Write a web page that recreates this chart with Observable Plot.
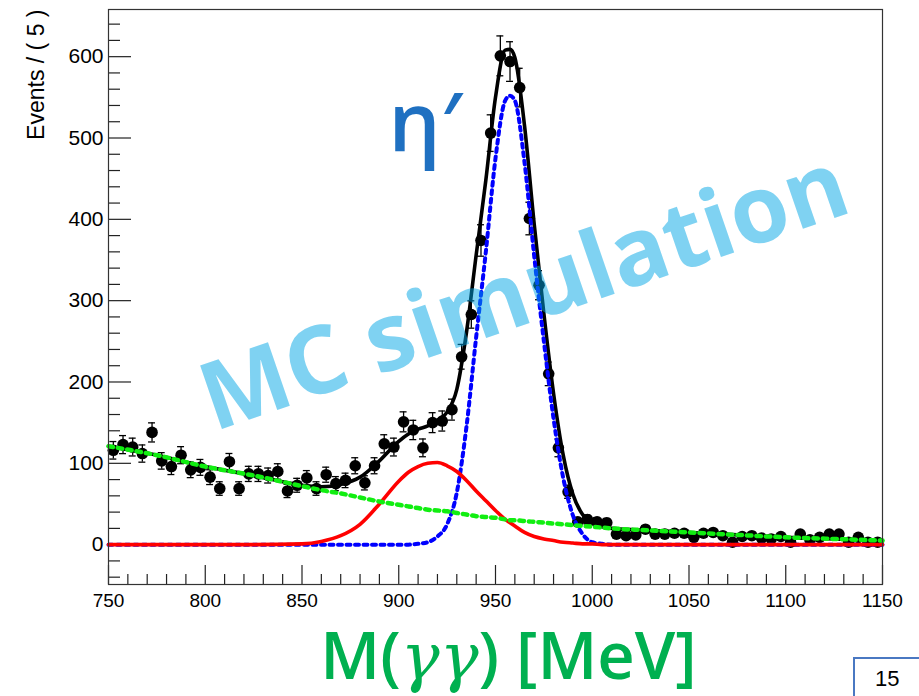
<!DOCTYPE html>
<html>
<head>
<meta charset="utf-8">
<script src="https://cdn.jsdelivr.net/npm/d3@7"></script>
<script src="https://cdn.jsdelivr.net/npm/@observablehq/plot@0.6"></script>
<style>
  html, body { margin: 0; padding: 0; background: #fff; overflow: hidden; }
  #wrap { position: relative; width: 919px; height: 696px; }
  #page { position: absolute; left: 853px; top: 657px; width: 120px; height: 80px;
          border: 2px solid #4a78c2; box-sizing: border-box; }
  #page span { position: absolute; left: 20px; top: 9px; font-family: "Liberation Sans", Arial, sans-serif;
               font-size: 22px; line-height: 22px; color: #000; }
</style>
</head>
<body>
<div id="wrap"></div>
<script>
// ---- Data ----
const binMeV = [
  752.5, 757.5, 762.5, 767.5, 772.5, 777.5, 782.5, 787.5, 792.5, 797.5,
  802.5, 807.5, 812.5, 817.5, 822.5, 827.5, 832.5, 837.5, 842.5, 847.5,
  852.5, 857.5, 862.5, 867.5, 872.5, 877.5, 882.5, 887.5, 892.5, 897.5,
  902.5, 907.5, 912.5, 917.5, 922.5, 927.5, 932.5, 937.5, 942.5, 947.5,
  952.5, 957.5, 962.5, 967.5, 972.5, 977.5, 982.5, 987.5, 992.5, 997.5,
  1002.5, 1007.5, 1012.5, 1017.5, 1022.5, 1027.5, 1032.5, 1037.5, 1042.5, 1047.5,
  1052.5, 1057.5, 1062.5, 1067.5, 1072.5, 1077.5, 1082.5, 1087.5, 1092.5, 1097.5,
  1102.5, 1107.5, 1112.5, 1117.5, 1122.5, 1127.5, 1132.5, 1137.5, 1142.5, 1147.5
];
const events = [
  116, 123, 120, 112, 138, 103, 96, 110, 92, 95,
  83, 69, 102, 69, 87, 87, 85, 90, 66, 73,
  82, 69, 86, 75, 79, 97, 76, 97, 124, 120,
  151, 141, 119, 150, 152, 166, 231, 283, 374, 506,
  601, 594, 562, 401, 319, 210, 119, 65, 28, 31,
  28, 27, 13, 11, 12, 19, 13, 13, 14, 14,
  9, 14, 15, 11, 3, 10, 11, 8, 7, 10,
  3, 13, 6, 9, 13, 13, 3, 9, 3, 3
];

// fit curves
const fitMeV = [750, 775, 800, 825, 850, 860, 870, 880, 890, 900, 905, 910, 915, 920, 925, 930, 935, 940, 945, 950,
  955, 957.5, 960, 965, 970, 975, 980, 985, 990, 995, 1000, 1005, 1010, 1025, 1050, 1075, 1100, 1125, 1150];
const fitTotal = [121, 110, 96, 85, 73, 71, 74, 83, 103, 127, 136, 142, 146, 153, 163, 191, 261, 356, 448, 550,
  608, 609, 599, 515, 394, 284, 186, 110, 62, 37, 26, 22, 20, 18, 15, 12, 9, 7, 5];
const fitBackground = [121, 110, 96, 85, 72, 67, 63, 58, 53, 49, 47, 45, 43, 42, 41, 39, 37, 35, 34, 33,
  31, 30, 30, 29, 28, 27, 26, 25, 24, 23, 22, 21, 20, 18, 15, 12, 9, 7, 5];
const fitBroad = [0, 0, 0, 0, 1, 4, 11, 25, 50, 78, 89, 96, 100, 101, 97, 90, 79, 66, 54, 42,
  31, 27, 23, 15, 10, 7, 5, 3, 2, 1, 1, 0, 0, 0, 0, 0, 0, 0, 0];
const fitSignal = [0, 0, 0, 0, 0, 0, 0, 0, 0, 0, 0, 1, 3, 10, 25, 64, 145, 255, 360, 475,
  546, 552, 546, 470, 355, 250, 155, 82, 36, 13, 3, 1, 0, 0, 0, 0, 0, 0, 0];

const xTickLabels = [750, 800, 850, 900, 950, 1000, 1050, 1100, 1150];
const yTickLabels = [0, 100, 200, 300, 400, 500, 600];
const xMinorTicks = d3.range(750, 1151, 10).filter(v => v % 50 !== 0);
const yMinorTicks = d3.range(-40, 641, 20).filter(v => v % 100 !== 0);

const yTitle = "Events / ( 5 )";
const xTitle = "M(γγ) [MeV]";
const watermark = "MC simulation";
const particle = "η′";
const pageNumber = "15";

// ---- tables ----
const points = binMeV.map((m, i) => ({m, n: events[i], e: Math.sqrt(events[i])}));
const fit = fitMeV.map((m, i) => ({m, total: fitTotal[i], bg: fitBackground[i], broad: fitBroad[i], sig: fitSignal[i]}));

const plot = Plot.plot({
  width: 919,
  height: 696,
  marginLeft: 108,
  marginRight: 37,
  marginTop: 9,
  marginBottom: 112,
  x: {domain: [750, 1150]},
  y: {domain: [-49, 658]},
  style: {fontFamily: "'Liberation Sans', Arial, sans-serif", background: "white", color: "black"},
  marks: [
    // inward ROOT-style ticks
    Plot.tickX(xTickLabels, {x: d => d, insetTop: 556, stroke: "#222", strokeWidth: 1.2}),
    Plot.tickX(xMinorTicks, {x: d => d, insetTop: 565, stroke: "#222", strokeWidth: 1.2}),
    Plot.tickY(yTickLabels, {y: d => d, insetRight: 751, stroke: "#222", strokeWidth: 1.2}),
    Plot.tickY(yMinorTicks, {y: d => d, insetRight: 762, stroke: "#222", strokeWidth: 1.2}),
    Plot.axisX(xTickLabels, {tickSize: 0, tickPadding: 9, fontSize: 19, label: null, tickFormat: d3.format("d")}),
    Plot.axisY(yTickLabels, {tickSize: 0, tickPadding: 5, fontSize: 21, label: null, tickFormat: d3.format("d")}),
    // data with error bars
    Plot.ruleX(points, {x: "m", y1: d => d.n - d.e, y2: d => d.n + d.e, stroke: "black", strokeWidth: 1.3}),
    Plot.ruleY(points, {y: d => d.n + d.e, x1: d => d.m - 1.8, x2: d => d.m + 1.8, stroke: "black", strokeWidth: 1.3}),
    Plot.ruleY(points, {y: d => d.n - d.e, x1: d => d.m - 1.8, x2: d => d.m + 1.8, stroke: "black", strokeWidth: 1.3}),
    Plot.dot(points, {x: "m", y: "n", r: 5.8, fill: "black", stroke: "none"}),
    // fit curves
    Plot.line(fit, {x: "m", y: "total", stroke: "black", strokeWidth: 3.6, curve: "monotone-x"}),
    Plot.line(fit, {x: "m", y: "sig", stroke: "#0000ff", strokeWidth: 4, strokeDasharray: "4,4.5", curve: "monotone-x"}),
    Plot.line(fit, {x: "m", y: "broad", stroke: "#ff0000", strokeWidth: 3.6, curve: "monotone-x"}),
    Plot.line(fit, {x: "m", y: "bg", stroke: "#11ee11", strokeWidth: 4.5, strokeDasharray: "4.5,5", curve: "monotone-x"}),
    Plot.frame({stroke: "#333", strokeWidth: 1.2}),
    // annotations
    Plot.text([particle], {text: d => d, frameAnchor: "top-left", dx: 280, dy: 83, fontSize: 82, fontWeight: 600,
      fill: "#1f70c1", fontFamily: "'Open Sans', sans-serif"}),
    Plot.text([watermark], {text: d => d, frameAnchor: "middle", dx: 29, dy: -4, rotate: -19, fontSize: 94,
      fontWeight: 700, fontFamily: "'Open Sans', sans-serif", fill: "#00a6e6", fillOpacity: 0.5}),
    Plot.text([yTitle], {text: d => d, frameAnchor: "top-left", dx: -72, dy: 0, rotate: -90,
      textAnchor: "end", lineAnchor: "middle", fontSize: 23}),
    Plot.text([xTitle], {text: d => d, frameAnchor: "bottom", dx: 13, dy: 94, lineAnchor: "bottom",
      fontSize: 65, fontWeight: 600, fill: "#00b050", fontFamily: "'Open Sans', sans-serif"})
  ]
});

const wrap = document.getElementById("wrap");
wrap.appendChild(plot);

// italic gammas in the x title
d3.select(plot).selectAll("text").each(function() {
  if (this.textContent === xTitle) {
    const el = d3.select(this);
    el.text("");
    el.append("tspan").text("M(");
    el.append("tspan").attr("font-style", "italic").attr("font-family", "'DejaVu Serif', serif").attr("font-weight", 400).text("γγ");
    el.append("tspan").text(") [MeV]");
  }
});

// page-number box of the slide
const page = document.createElement("div");
page.id = "page";
const num = document.createElement("span");
num.textContent = pageNumber;
page.appendChild(num);
wrap.appendChild(page);
</script>
</body>
</html>
